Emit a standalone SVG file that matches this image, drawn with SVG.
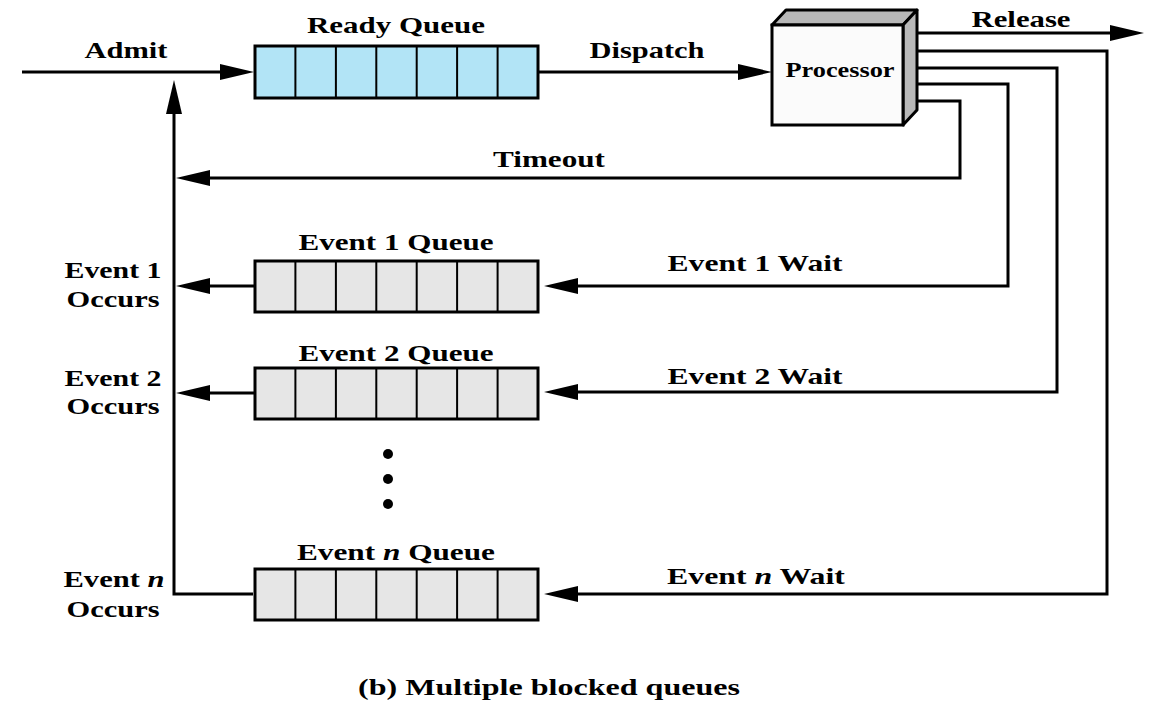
<svg xmlns="http://www.w3.org/2000/svg" width="1171" height="705" viewBox="0 0 1171 705">
<style>
text{font-family:"Liberation Serif","Times New Roman",serif;font-weight:700;font-size:23px;fill:#000}
.q{stroke:#000;stroke-width:3}
.cell{stroke:#000;stroke-width:2;fill:none}
.ready{fill:#b2e4f6}
.blk{fill:#e6e6e6}
.c{fill:none;stroke:#000;stroke-width:3}
</style>
<defs>
<marker id="ah" markerUnits="userSpaceOnUse" markerWidth="36" markerHeight="16" refX="1" refY="8" orient="auto">
<path d="M0,0 L34,8 L0,16 z" fill="#000"/>
</marker>
<g id="cells">
<path class="cell" d="M295.4,0 V52 M335.9,0 V52 M376.3,0 V52 M416.7,0 V52 M457.1,0 V52 M497.6,0 V52"/>
</g>
</defs>
<rect width="1171" height="705" fill="#fff"/>

<g id="connectors">
<path class="c" d="M22,72 H221" marker-end="url(#ah)"/>
<path class="c" d="M538,72 H739" marker-end="url(#ah)"/>
<path class="c" d="M912,33 H1111" marker-end="url(#ah)"/>
<path class="c" d="M912,101 H960 V178 H209" marker-end="url(#ah)"/>
<path class="c" d="M912,84 H1008 V286 H577" marker-end="url(#ah)"/>
<path class="c" d="M912,68 H1057 V392 H577" marker-end="url(#ah)"/>
<path class="c" d="M912,51 H1107 V594 H577" marker-end="url(#ah)"/>
<path class="c" d="M255,286 H209" marker-end="url(#ah)"/>
<path class="c" d="M255,393 H209" marker-end="url(#ah)"/>
<path class="c" d="M253,594 H174 V113" marker-end="url(#ah)"/>
</g>

<g id="ready-queue">
<rect class="q ready" x="255" y="46" width="283" height="52"/>
<use href="#cells" y="46"/>
<text x="396" y="33" text-anchor="middle" textLength="178" lengthAdjust="spacingAndGlyphs">Ready Queue</text>
</g>

<g id="processor">
<path d="M772,25 L786,10 H917 L903,25 Z" fill="#b8b8b8" stroke="#000" stroke-width="3" stroke-linejoin="round"/>
<path d="M903,25 L917,10 V110 L903,125 Z" fill="#b8b8b8" stroke="#000" stroke-width="3" stroke-linejoin="round"/>
<rect x="772" y="25" width="131" height="100" fill="#fbfbfb" stroke="#000" stroke-width="3"/>
<text x="840" y="77" text-anchor="middle" style="font-size:20px" textLength="109" lengthAdjust="spacingAndGlyphs">Processor</text>
</g>

<g id="event1-queue">
<rect class="q blk" x="255" y="261" width="283" height="51"/>
<use href="#cells" y="261"/>
<text x="396" y="250" text-anchor="middle" textLength="195" lengthAdjust="spacingAndGlyphs">Event 1 Queue</text>
</g>

<g id="event2-queue">
<rect class="q blk" x="255" y="368" width="283" height="51"/>
<use href="#cells" y="368"/>
<text x="396" y="361" text-anchor="middle" textLength="195" lengthAdjust="spacingAndGlyphs">Event 2 Queue</text>
</g>

<g id="eventn-queue">
<rect class="q blk" x="255" y="569" width="283" height="51"/>
<use href="#cells" y="569"/>
<text x="396" y="560" text-anchor="middle" textLength="198" lengthAdjust="spacingAndGlyphs">Event <tspan font-style="italic">n</tspan> Queue</text>
</g>

<g id="dots">
<circle cx="388" cy="454" r="5"/>
<circle cx="388" cy="479" r="5"/>
<circle cx="388" cy="504" r="5"/>
</g>

<g id="labels">
<text x="126" y="58" text-anchor="middle" textLength="83" lengthAdjust="spacingAndGlyphs">Admit</text>
<text x="647" y="58" text-anchor="middle" textLength="115" lengthAdjust="spacingAndGlyphs">Dispatch</text>
<text x="1021" y="27" text-anchor="middle" textLength="99" lengthAdjust="spacingAndGlyphs">Release</text>
<text x="549" y="167" text-anchor="middle" textLength="112" lengthAdjust="spacingAndGlyphs">Timeout</text>
<text x="755" y="271" text-anchor="middle" textLength="175" lengthAdjust="spacingAndGlyphs">Event 1 Wait</text>
<text x="755" y="384" text-anchor="middle" textLength="175" lengthAdjust="spacingAndGlyphs">Event 2 Wait</text>
<text x="756" y="584" text-anchor="middle" textLength="178" lengthAdjust="spacingAndGlyphs">Event <tspan font-style="italic">n</tspan> Wait</text>
<text x="113" y="278" text-anchor="middle" textLength="97" lengthAdjust="spacingAndGlyphs">Event 1</text>
<text x="113" y="307" text-anchor="middle" textLength="93" lengthAdjust="spacingAndGlyphs">Occurs</text>
<text x="113" y="386" text-anchor="middle" textLength="97" lengthAdjust="spacingAndGlyphs">Event 2</text>
<text x="113" y="414" text-anchor="middle" textLength="93" lengthAdjust="spacingAndGlyphs">Occurs</text>
<text x="114" y="587" text-anchor="middle" textLength="101" lengthAdjust="spacingAndGlyphs">Event <tspan font-style="italic">n</tspan></text>
<text x="113" y="617" text-anchor="middle" textLength="93" lengthAdjust="spacingAndGlyphs">Occurs</text>
<text x="549" y="695" text-anchor="middle" textLength="382" lengthAdjust="spacingAndGlyphs">(b) Multiple blocked queues</text>
</g>
</svg>
